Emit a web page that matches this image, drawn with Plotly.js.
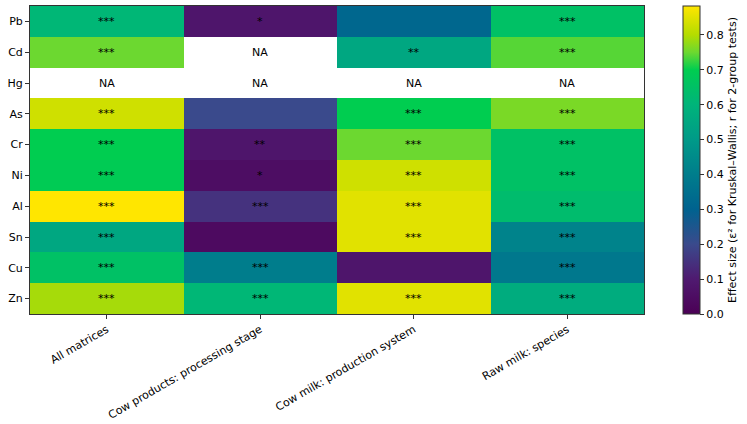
<!DOCTYPE html>
<html>
<head>
<meta charset="utf-8">
<script src="https://cdn.plot.ly/plotly-3.0.1.min.js"></script>
<style>html,body{margin:0;padding:0;background:#fff;}#chart{width:747px;height:424px;}</style>
</head>
<body>
<div id="chart"></div>
<script>
const metals = ["Pb","Cd","Hg","As","Cr","Ni","Al","Sn","Cu","Zn"];
const contrasts = ["All matrices","Cow products: processing stage","Cow milk: production system","Raw milk: species"];
// effect sizes (rows = metals, cols = contrasts); null = NA
const effectSize = [
  [0.61, 0.08, 0.32, 0.65],
  [0.75, null, 0.55, 0.74],
  [null, null, null, null],
  [0.83, 0.20, 0.70, 0.76],
  [0.70, 0.08, 0.75, 0.65],
  [0.69, 0.05, 0.83, 0.65],
  [0.883, 0.15, 0.85, 0.63],
  [0.55, 0.04, 0.85, 0.42],
  [0.65, 0.40, 0.08, 0.38],
  [0.79, 0.61, 0.85, 0.57]
];
const significance = [
  ["***","*","","***"],
  ["***","NA","**","***"],
  ["NA","NA","NA","NA"],
  ["***","","***","***"],
  ["***","**","***","***"],
  ["***","*","***","***"],
  ["***","***","***","***"],
  ["***","","***","***"],
  ["***","***","","***"],
  ["***","***","***","***"]
];
const zMax = 0.883;
const cbTitle = "Effect size (ε² for Kruskal–Wallis; r for 2-group tests)";

const stops = [
  [0.0, "#4b0055"], [0.1, "#4f1a70"], [0.2, "#3a4a8c"], [0.3, "#00628f"],
  [0.4, "#007d8c"], [0.5, "#009a88"], [0.6, "#00b47a"], [0.7, "#00cd50"],
  [0.75, "#6cd830"], [0.8, "#b4dc00"], [0.883, "#ffe600"]
];
const colorscale = stops.map(s => [s[0] / zMax, s[1]]);

const FONT = "DejaVu Sans";
const annotations = [];
metals.forEach((m, i) => {
  contrasts.forEach((c, j) => {
    const t = significance[i][j];
    if (t) {
      annotations.push({
        x: c, y: m, xref: "x", yref: "y", text: t, showarrow: false,
        font: {family: FONT, size: 11, color: "#000"}
      });
    }
  });
});

const trace = {
  type: "heatmap",
  x: contrasts, y: metals, z: effectSize,
  zmin: 0, zmax: zMax, colorscale: colorscale,
  hoverongaps: false, xgap: 0, ygap: 0,
  colorbar: {
    x: 1.0635, xanchor: "left", xpad: 0, y: 0.5, yanchor: "middle", ypad: 0,
    len: 1, lenmode: "fraction", thickness: 17, thicknessmode: "pixels",
    outlinewidth: 1, outlinecolor: "#333",
    ticks: "outside", ticklen: 4, tickwidth: 1, tickcolor: "#333",
    tickvals: [0,0.1,0.2,0.3,0.4,0.5,0.6,0.7,0.8],
    ticktext: ["0.0","0.1","0.2","0.3","0.4","0.5","0.6","0.7","0.8"],
    tickfont: {family: FONT, size: 11, color: "#000"},
    title: {text: cbTitle, side: "right", font: {family: FONT, size: 11, color: "#000"}}
  }
};

const layout = {
  width: 747, height: 424,
  margin: {l: 30, r: 103, t: 6, b: 110, autoexpand: false},
  paper_bgcolor: "#fff", plot_bgcolor: "#fff",
  font: {family: FONT, size: 11, color: "#000"},
  xaxis: {
    type: "category", tickangle: -30, ticks: "outside", ticklen: 4, tickcolor: "#333",
    showline: true, linecolor: "#333", linewidth: 1, mirror: true, showgrid: false, zeroline: false,
    tickfont: {family: FONT, size: 11, color: "#000"}
  },
  yaxis: {
    type: "category", autorange: "reversed", ticks: "outside", ticklen: 4, tickcolor: "#333",
    showline: true, linecolor: "#333", linewidth: 1, mirror: true, showgrid: false, zeroline: false,
    tickfont: {family: FONT, size: 11, color: "#000"}
  },
  annotations: annotations
};

Plotly.newPlot("chart", [trace], layout, {displayModeBar: false, staticPlot: true});
</script>
</body>
</html>
